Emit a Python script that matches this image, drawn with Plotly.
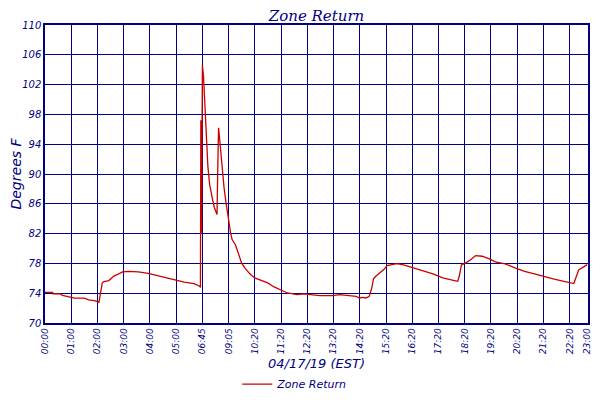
import plotly.graph_objects as go

# Zone return temperature, 04/17/19 (x = sample slot, 5 min per slot)
slot = [0, 3.5, 3.6, 7, 8, 12, 13.5, 18, 20, 22.5, 24.7, 26.2, 27, 29.2, 31.5, 33.7,
        35.5, 38.2, 42.7, 47.2, 51.7, 56.2, 59.2, 63.7, 68.2, 70.9, 71.1,
        71.3, 71.6, 72.0, 72.5, 73.0, 73.7, 73.9, 74.5, 75.3, 76.0, 76.8, 77.5,
        78.3, 78.7, 79.0, 79.4, 79.7, 80.0, 80.5, 80.9, 81.5, 81.9, 82.7, 83.4,
        84.1, 84.9, 85.6, 87.1, 88.4, 89.9, 91.4, 93.6, 95.9, 98.9, 101.9, 104.8,
        107.8, 110.9, 115.3, 118.3, 125.8, 131.8, 134.8, 139.3, 142.3, 143.8,
        145.3, 146.8, 148.3, 149.5, 150.2, 151.3, 152.8, 155.0, 156.5, 158.8,
        161.0, 164.0, 168.5, 173.0, 177.5, 182.0, 185.0, 187.3, 188.8, 189.5,
        190.5, 192.5, 194.7, 197.0, 200.0, 203.0, 206.0, 210.5, 215.0, 219.4,
        223.9, 228.4, 232.9, 237.4, 241.2, 241.9, 243.1, 244.2, 246.4, 248.0]
temp_f = [74.1, 74.1, 73.9, 73.9, 73.7, 73.5, 73.35, 73.35, 73.1, 73.0, 72.8, 75.4,
          75.55, 75.7, 76.3, 76.6, 76.86, 76.94, 76.86, 76.67, 76.36, 76.05, 75.78,
          75.5, 75.29, 74.9, 74.75,
          97.2, 82.1, 104.6, 103.2, 100.0, 96.9, 93.75, 91.06, 88.6, 87.26, 86.36,
          85.47, 84.8, 84.57, 90.2, 96.2, 95.3, 94.2, 92.9, 91.06, 89.3, 88.2,
          86.36, 84.8, 83.45, 82.1, 81.2, 80.5, 79.4, 78.07, 77.4, 76.63, 76.05,
          75.7, 75.38, 74.84, 74.48, 74.03, 73.8, 73.9, 73.67, 73.67, 73.8, 73.67,
          73.58, 73.36, 73.45, 73.36, 73.58, 74.7, 75.9, 76.27, 76.63, 77.17,
          77.7, 77.8, 77.97, 77.8, 77.4, 76.94, 76.6, 76.05, 75.9, 75.7, 75.6,
          76.27, 77.8, 78.07, 78.5, 79.05, 78.96, 78.65, 78.2, 77.93, 77.4, 76.94,
          76.6, 76.2, 75.9, 75.6, 75.38, 75.29, 76.27, 77.17, 77.53, 77.84]

tick_slots = [0, 12, 24, 36, 48, 60, 72, 84, 96, 108, 120, 132, 144, 156, 168,
              180, 192, 204, 216, 228, 240, 248]
tick_labels = ["00:00", "01:00", "02:00", "03:00", "04:00", "05:00", "06:45", "09:05",
               "10:20", "11:20", "12:20", "13:20", "14:20", "15:20", "16:20", "17:20",
               "18:20", "19:20", "20:20", "21:20", "22:20", "23:00"]

navy = "#000080"
sans = "DejaVu Sans"

fig = go.Figure()
fig.add_trace(go.Scatter(x=slot, y=temp_f, mode="lines", name="Zone Return",
                         line=dict(color="#cc0000", width=1.3)))

# page body adds an 8px margin all round, so keep the figure inside it
fig.update_layout(
    width=584, height=384,
    margin=dict(l=37, r=4, t=17, b=69, autoexpand=False),
    paper_bgcolor="white", plot_bgcolor="white",
    title=dict(text="Zone Return", x=0.5, xref="paper", y=0.994, yanchor="top",
               font=dict(family="DejaVu Serif", size=15, color=navy, style="italic")),
    showlegend=True,
    legend=dict(orientation="h", x=0.46, xanchor="center",
                y=-0.205, yanchor="middle",
                font=dict(family=sans, size=11, color=navy, style="italic")),
)

fig.update_xaxes(
    range=[0, 248.4], tickvals=tick_slots, ticktext=tick_labels, tickangle=-90,
    tickfont=dict(family=sans, size=9, color=navy, style="italic"),
    ticklabeloverflow="allow",
    showgrid=True, gridcolor=navy, gridwidth=1.3, zeroline=False,
    showline=True, mirror=True, linecolor=navy, linewidth=1.5,
    title=dict(text="04/17/19 (EST)", standoff=6,
               font=dict(family=sans, size=13, color=navy, style="italic")),
)
fig.update_yaxes(
    range=[70, 110], dtick=4, tick0=70,
    tickfont=dict(family=sans, size=10, color=navy, style="italic"),
    showgrid=True, gridcolor=navy, gridwidth=1.3, zeroline=False,
    showline=True, mirror=True, linecolor=navy, linewidth=1.5,
    title=dict(text="Degrees F", standoff=6,
               font=dict(family=sans, size=14, color=navy, style="italic")),
)

fig.write_html("out.html")
